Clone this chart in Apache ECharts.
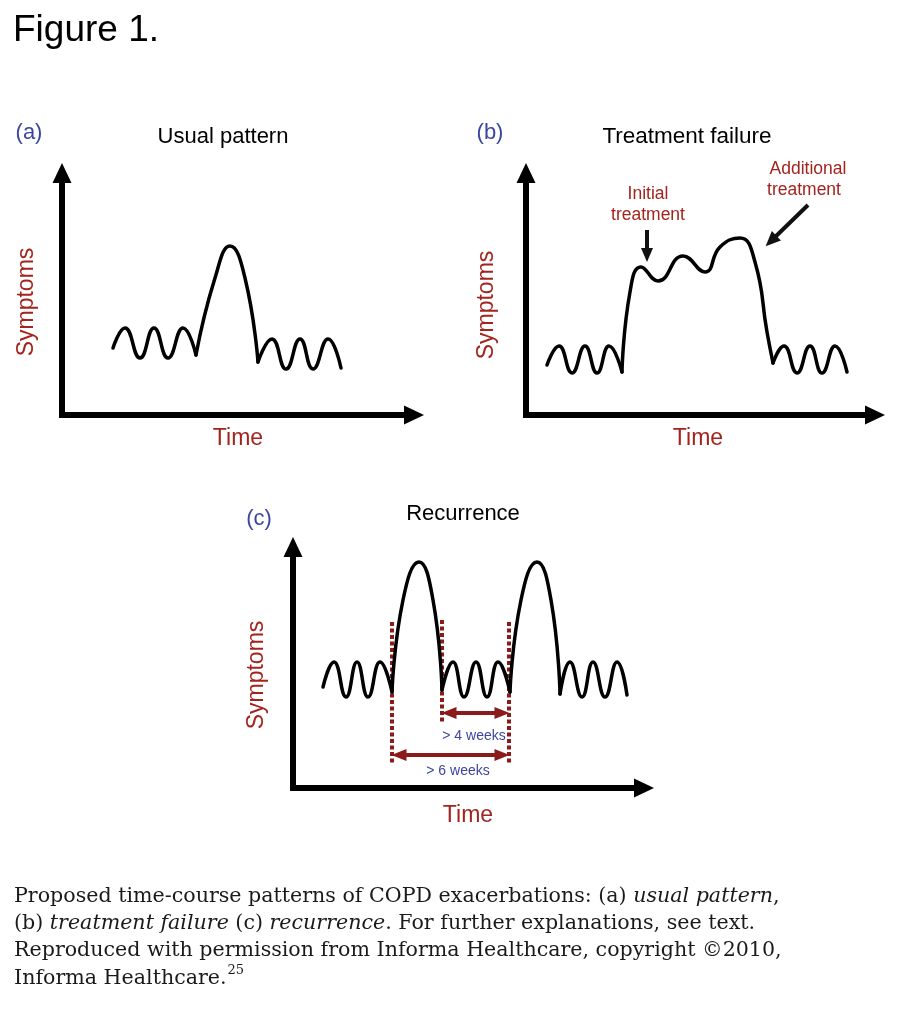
<!DOCTYPE html>
<html><head><meta charset="utf-8">
<script src="https://cdn.jsdelivr.net/npm/echarts@6/dist/echarts.min.js"></script>
<style>html,body{margin:0;padding:0;background:#fff}#c{width:900px;height:1034px}</style>
</head><body><div id="c"></div>
<script>
// ---- Panel (a) Usual pattern : [time, symptoms] ----
const usualBefore = [[51,67],[63,87],[78,57],[92,87],[106,57],[121,87],[134,60]];
const usualPeak   = [[134,60],[153,137],[168,169],[183,137],[196,53]];
const usualAfter  = [[196,53],[210,76],[224,46],[238,76],[251,46],[266,76],[279,47]];

// ---- Panel (b) Treatment failure ----
const failBefore  = [[21,50],[33,69],[46,42],[59,69],[71,42],[83,69],[96,43]];
const failPlateau = [[96,43],[104,123],[115,148],[132,134],[157,159],[179,143],[194,168],[214,177],[229,153],[241,83],[247,52]];
const failAfter   = [[247,52],[258,69],[271,42],[284,69],[296,42],[309,69],[321,43]];
const initialArrow    = [[121,185],[121,160]];
const additionalArrow = [[282,210],[245,174]];

// ---- Panel (c) Recurrence ----
const recBase1  = [[30,101],[41,126],[53,91],[64,126],[75,91],[87,126],[99,96]];
const recPeak1  = [[99,96],[110,188],[126,226],[140,188],[149,98]];
const recBase2  = [[149,98],[160,126],[171,91],[183,126],[194,91],[205,126],[217,96]];
const recPeak2  = [[217,96],[228,188],[244,226],[258,188],[267,94]];
const recBase3  = [[267,94],[277,126],[289,91],[300,126],[312,91],[324,126],[334,93]];
const markers   = [[[99,166],[99,23]],[[149,168],[149,66]],[[216,166],[216,23]]];
const span4w    = [[156,75],[209,75]];
const span6w    = [[106,33],[209,33]];

// ---- Texts ----
const panelTitles = ['Usual pattern','Treatment failure','Recurrence'];
const panelTags   = ['(a)','(b)','(c)'];
const yName = 'Symptoms', xName = 'Time';

const SANS = 'Liberation Sans';
const RED = '#a3241e', BLUE = '#3c46a0', DARK = '#8b1a1a';

const grids = [
  {left:62,  top:173, width:352, height:242},
  {left:526, top:173, width:349, height:242},
  {left:293, top:547, width:351, height:241}
];
function axisLine(){
  return {show:true, onZero:false, symbol:['none','triangle'], symbolSize:[19,20],
    lineStyle:{color:'#000', width:6, cap:'square'}};
}
const xAxes = grids.map((g,i)=>({type:'value', gridIndex:i, min:0, max:g.width,
  axisLine:axisLine(), axisTick:{show:false}, axisLabel:{show:false}, splitLine:{show:false}}));
const yAxes = grids.map((g,i)=>({type:'value', gridIndex:i, min:0, max:g.height,
  axisLine:axisLine(), axisTick:{show:false}, axisLabel:{show:false}, splitLine:{show:false}}));

function curve(data, gi, extra){
  return Object.assign({type:'line', xAxisIndex:gi, yAxisIndex:gi, data:data, smooth:0.5,
    symbol:'none', silent:true, z:3,
    lineStyle:{color:'#000', width:3.5, cap:'round', join:'round'}}, extra||{});
}
function arrowMark(pts, symbols, color, size){
  return {silent:true, symbol:symbols, symbolSize:size, label:{show:false},
    lineStyle:{color:color, width:4, type:'solid', cap:'butt'},
    emphasis:{disabled:true},
    data:[[{coord:pts[0]},{coord:pts[1]}]]};
}

const series = [
  curve(usualBefore,0), curve(usualPeak,0), curve(usualAfter,0),
  curve(failBefore,1),
  curve(failPlateau,1,{markLine:arrowMark(initialArrow,['none','triangle'],'#111',[12,14])}),
  curve(failAfter,1,{markLine:arrowMark(additionalArrow,['none','triangle'],'#111',[13,15])}),
  curve(recBase1,2,{markLine:{silent:true, symbol:['none','none'], label:{show:false}, z:1,
      lineStyle:{color:DARK, width:4, type:[4,2.5], cap:'butt'}, emphasis:{disabled:true},
      data:markers.map(m=>[{coord:m[0]},{coord:m[1]}])}}),
  curve(recPeak1,2,{markLine:arrowMark(span4w,['triangle','triangle'],DARK,[12,15])}),
  curve(recBase2,2,{markLine:arrowMark(span6w,['triangle','triangle'],DARK,[12,15])}),
  curve(recPeak2,2), curve(recBase3,2)
];

function txt(x,y,text,size,color,extra){
  return Object.assign({type:'text', x:x, y:y, silent:true,
    style:{text:text, fontSize:size, fontFamily:SANS, fill:color, align:'center', verticalAlign:'middle'}}, extra||{});
}
const CAP = 'DejaVu Serif';
const graphics = [
  txt(13,31,'Figure 1.',37,'#000',{style:{text:'Figure 1.',fontSize:37,fontFamily:SANS,fill:'#000',align:'left',verticalAlign:'middle'}}),
  txt(29,133,panelTags[0],22,BLUE), txt(490,133,panelTags[1],22,BLUE), txt(259,519,panelTags[2],22,BLUE),
  txt(223,137,panelTitles[0],22,'#000'), txt(687,137,panelTitles[1],22.5,'#000'), txt(463,514,panelTitles[2],22,'#000'),
  txt(27,302,yName,23,RED,{rotation:Math.PI/2}), txt(487,305,yName,23,RED,{rotation:Math.PI/2}), txt(257,675,yName,23,RED,{rotation:Math.PI/2}),
  txt(238,439,xName,23,RED), txt(698,439,xName,23,RED), txt(468,816,xName,23,RED),
  txt(648,194,'Initial',17.5,RED), txt(648,215,'treatment',17.5,RED),
  txt(808,169,'Additional',17.5,RED), txt(804,190,'treatment',17.5,RED),
  txt(474,736,'> 4 weeks',14,BLUE), txt(458,771,'> 6 weeks',14,BLUE),
  {type:'text', x:14, y:883, silent:true, style:{
    text:'Proposed time-course patterns of COPD exacerbations: (a) {i|usual pattern},\n(b) {i|treatment failure} (c) {i|recurrence}. For further explanations, see text.\nReproduced with permission from Informa Healthcare, copyright \u00a92010,\nInforma Healthcare.{sup|25}',
    fontSize:20.6, fontFamily:CAP, fill:'#1a1a1a', align:'left', verticalAlign:'top', lineHeight:27.2,
    rich:{i:{fontStyle:'italic', fontSize:20.6, fontFamily:CAP, fill:'#1a1a1a', lineHeight:27.2},
          sup:{fontSize:13, fontFamily:CAP, fill:'#1a1a1a', verticalAlign:'top', lineHeight:27.2, padding:[0,0,0,1]}}}}
];

const chart = echarts.init(document.getElementById('c'), null, {renderer:'canvas'});
chart.setOption({animation:false, backgroundColor:'#fff', grid:grids, xAxis:xAxes, yAxis:yAxes,
  series:series, graphic:graphics, tooltip:{show:false}});
</script></body></html>
